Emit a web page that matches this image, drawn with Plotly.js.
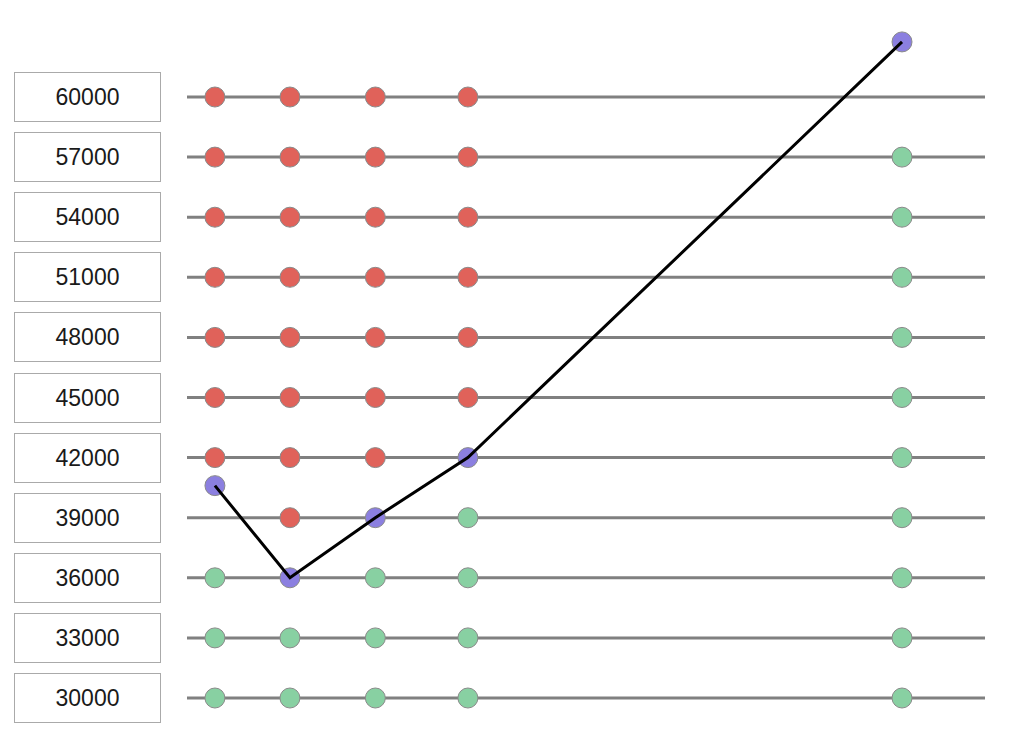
<!DOCTYPE html>
<html>
<head>
<meta charset="utf-8">
<script src="https://cdn.plot.ly/plotly-3.0.1.min.js"></script>
<style>html,body{margin:0;padding:0;background:#fff;}#chart{width:1020px;height:732px;}</style>
</head>
<body>
<div id="chart"></div>
<script>
// Levels (tick labels in boxes)
const levels = [60000, 57000, 54000, 51000, 48000, 45000, 42000, 39000, 36000, 33000, 30000];
// Column positions (x)
const columns = [3.5, 12.9, 23.6, 35.2, 89.6];
// Actual value path (purple)
const pathValues = [40600, 36000, 39000, 42000, 62750];
// Levels above the path (red), per column
const redLevels = [
  [60000, 57000, 54000, 51000, 48000, 45000, 42000],
  [60000, 57000, 54000, 51000, 48000, 45000, 42000, 39000],
  [60000, 57000, 54000, 51000, 48000, 45000, 42000],
  [60000, 57000, 54000, 51000, 48000, 45000],
  []
];
// Levels below the path (green), per column
const greenLevels = [
  [36000, 33000, 30000],
  [33000, 30000],
  [36000, 33000, 30000],
  [39000, 36000, 33000, 30000],
  [57000, 54000, 51000, 48000, 45000, 42000, 39000, 36000, 33000, 30000]
];

function flatten(groups) {
  const xs = [], ys = [];
  groups.forEach((g, i) => g.forEach(v => { xs.push(columns[i]); ys.push(v); }));
  return {xs, ys};
}
const red = flatten(redLevels);
const green = flatten(greenLevels);
const markerLine = {color: '#8a8a8a', width: 1};

const traces = [
  {x: red.xs, y: red.ys, mode: 'markers', type: 'scatter', hoverinfo: 'skip',
   marker: {size: 20, color: '#e0625a', line: markerLine}},
  {x: green.xs, y: green.ys, mode: 'markers', type: 'scatter', hoverinfo: 'skip',
   marker: {size: 20, color: '#88d0a2', line: markerLine}},
  {x: columns, y: pathValues, mode: 'markers', type: 'scatter', hoverinfo: 'skip',
   marker: {size: 20, color: '#8b7fe0', line: markerLine}},
  {x: columns, y: pathValues, mode: 'lines', type: 'scatter', hoverinfo: 'skip',
   line: {color: '#000000', width: 3}}
];

const shapes = levels.map(v => ({
  type: 'line', xref: 'paper', yref: 'y', x0: 0, x1: 1, y0: v, y1: v,
  line: {color: '#808080', width: 3}, layer: 'below'
}));

const annotations = levels.map(v => ({
  xref: 'paper', yref: 'y', x: (87.5 - 187) / 798, y: v,
  xanchor: 'center', yanchor: 'middle', showarrow: false,
  text: String(v), width: 145, height: 48, borderpad: 0,
  bordercolor: '#aaaaaa', borderwidth: 1, bgcolor: '#ffffff',
  font: {family: 'Liberation Sans, Arial, sans-serif', size: 23, color: '#1a1a1a'}
}));

const layout = {
  width: 1020, height: 732,
  margin: {l: 187, r: 35, t: 20, b: 20},
  paper_bgcolor: '#ffffff', plot_bgcolor: '#ffffff',
  showlegend: false,
  xaxis: {range: [0, 100], showgrid: false, zeroline: false, showticklabels: false, showline: false, ticks: ''},
  yaxis: {range: [29301, 63843.5], showgrid: false, zeroline: false, showticklabels: false, showline: false, ticks: ''},
  shapes: shapes,
  annotations: annotations
};

Plotly.newPlot('chart', traces, layout, {displayModeBar: false, staticPlot: true});
</script>
</body>
</html>
